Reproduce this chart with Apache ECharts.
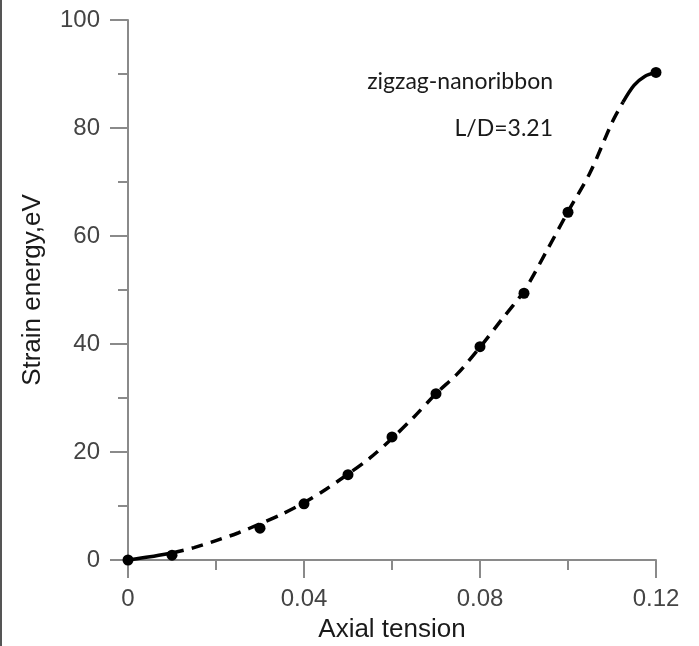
<!DOCTYPE html>
<html>
<head>
<meta charset="utf-8">
<script src="https://cdn.jsdelivr.net/npm/echarts@6/dist/echarts.min.js"></script>
<style>
html,body{margin:0;padding:0;background:#fff;}
#c{width:699px;height:646px;}
</style>
</head>
<body>
<div id="c"></div>
<script>
// Measured points
var pointX = [0, 0.01, 0.03, 0.04, 0.05, 0.06, 0.07, 0.08, 0.09, 0.10, 0.12];
var pointY = [0, 0.9, 5.9, 10.4, 15.8, 22.8, 30.8, 39.5, 49.4, 64.4, 90.3];
// Fitted dashed curve
var curveX = [0, 0.005, 0.01, 0.015, 0.02, 0.025, 0.03, 0.035, 0.04, 0.045, 0.05, 0.055, 0.06, 0.065, 0.07, 0.075, 0.08, 0.085, 0.09, 0.095, 0.10, 0.105, 0.11, 0.1125, 0.115, 0.1175, 0.12];
var curveY = [0, 0.6, 1.3, 2.3, 3.6, 5.0, 6.7, 8.5, 10.6, 13.1, 15.9, 18.9, 22.5, 26.5, 30.8, 34.6, 39.4, 44.6, 49.8, 57.0, 64.5, 71.7, 81.0, 84.8, 87.9, 89.6, 90.3];
var xTicks = [0, 0.04, 0.08, 0.12];
var yTicks = [0, 20, 40, 60, 80, 100];
var xTitle = 'Axial tension';
var yTitle = 'Strain energy,eV';
var note1 = 'zigzag-nanoribbon';
var note2 = 'L/D=3.21';

function pairs(xs, ys, a, b) {
  var out = [];
  for (var i = a; i <= b; i++) out.push([xs[i], ys[i]]);
  return out;
}
var n = curveX.length;
var solidStartEnd = 2;            // index of 0.01
var solidEndStart = curveX.indexOf(0.1125);

var chart = echarts.init(document.getElementById('c'), null, {renderer: 'canvas'});
var axisGray = '#8a8a8a';
var labelGray = '#444444';
var lineStyleCommon = {color: '#000', width: 3.5};

chart.setOption({
  backgroundColor: '#ffffff',
  animation: false,
  grid: {left: 128, right: 43, top: 20, bottom: 86, containLabel: false, outerBoundsMode: 'none'},
  xAxis: {
    type: 'value', min: 0, max: 0.12, interval: 0.04,
    name: xTitle, nameLocation: 'middle', nameGap: 57,
    nameTextStyle: {fontFamily: 'Liberation Sans, Arial', fontSize: 26, color: '#1a1a1a'},
    axisLine: {show: true, onZero: false, lineStyle: {color: axisGray, width: 2}},
    axisTick: {show: true, inside: false, length: 18, lineStyle: {color: axisGray, width: 2}},
    minorTick: {show: true, splitNumber: 2, length: 10, lineStyle: {color: axisGray, width: 2}},
    splitLine: {show: false},
    minorSplitLine: {show: false},
    axisLabel: {
      margin: 27, fontFamily: 'Liberation Sans, Arial', fontSize: 24, color: labelGray,
      formatter: function (v) {
        var best = xTicks.reduce(function (p, c) { return Math.abs(c - v) < Math.abs(p - v) ? c : p; });
        return best === 0 ? '0' : String(best);
      }
    }
  },
  yAxis: {
    type: 'value', min: 0, max: 100, interval: 20,
    name: yTitle, nameLocation: 'middle', nameGap: 82, nameRotate: 90,
    nameTextStyle: {fontFamily: 'Liberation Sans, Arial', fontSize: 26, color: '#1a1a1a'},
    axisLine: {show: true, lineStyle: {color: axisGray, width: 2}},
    axisTick: {show: true, inside: false, length: 18, lineStyle: {color: axisGray, width: 2}},
    minorTick: {show: true, splitNumber: 2, length: 10, lineStyle: {color: axisGray, width: 2}},
    splitLine: {show: false},
    minorSplitLine: {show: false},
    axisLabel: {
      margin: 28, fontFamily: 'Liberation Sans, Arial', fontSize: 24, color: labelGray,
      formatter: function (v) { return String(Math.round(v)); }
    }
  },
  graphic: [
    {type: 'rect', left: 0, top: 0, shape: {width: 2, height: 646}, style: {fill: '#555'}, silent: true},
    {type: 'text', right: 699 - 553, top: 70, style: {text: note1, font: '23px Lato', fill: '#1a1a1a', textAlign: 'right'}},
    {type: 'text', right: 699 - 553, top: 117, style: {text: note2, font: '23px Lato', fill: '#1a1a1a', textAlign: 'right'}}
  ],
  series: [
    {
      type: 'line', name: 'fitStart', data: pairs(curveX, curveY, 0, solidStartEnd),
      smooth: 0.3, showSymbol: false, lineStyle: lineStyleCommon, z: 2
    },
    {
      type: 'line', name: 'fit', data: pairs(curveX, curveY, solidStartEnd, solidEndStart),
      smooth: 0.3, showSymbol: false,
      lineStyle: {color: '#000', width: 3.5, type: [12, 8]}, z: 2
    },
    {
      type: 'line', name: 'fitEnd', data: pairs(curveX, curveY, solidEndStart, n - 1),
      smooth: 0.3, showSymbol: false, lineStyle: lineStyleCommon, z: 2
    },
    {
      type: 'scatter', name: 'points', data: pointX.map(function (x, i) { return [x, pointY[i]]; }),
      symbol: 'circle', symbolSize: 11, itemStyle: {color: '#000', opacity: 1}, z: 3
    }
  ]
});
</script>
</body>
</html>
